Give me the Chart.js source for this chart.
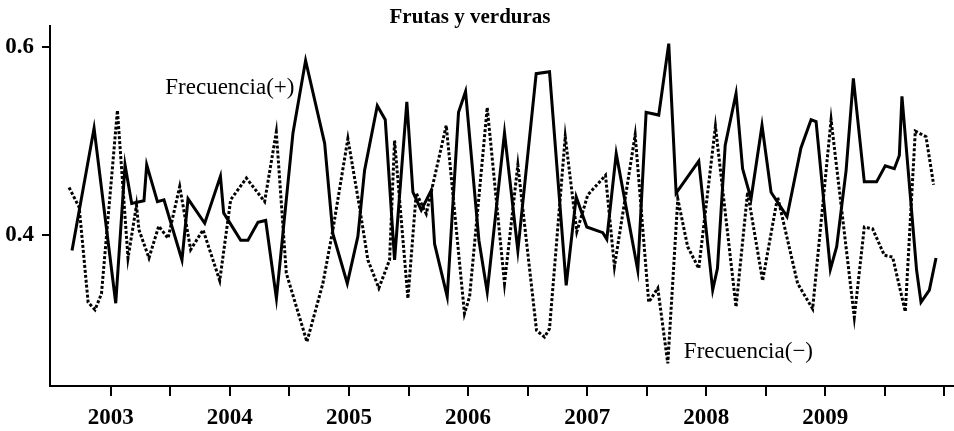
<!DOCTYPE html>
<html>
<head>
<meta charset="utf-8">
<script src="https://cdn.jsdelivr.net/npm/chart.js@4"></script>
<style>
  html, body { margin: 0; padding: 0; background: #fff; }
  #wrap { width: 954px; height: 431px; }
</style>
</head>
<body>
<div id="wrap"><canvas id="myChart" width="954" height="431"></canvas></div>
<script>
// dates as decimal years
var posX = [2002.675, 2002.860, 2003.042, 2003.120, 2003.176, 2003.279, 2003.302, 2003.392, 2003.447, 2003.598,
            2003.649, 2003.789, 2003.921, 2003.948, 2004.091, 2004.152, 2004.236, 2004.301, 2004.391, 2004.530,
            2004.636, 2004.796, 2004.865, 2004.986, 2005.075, 2005.131, 2005.238, 2005.305, 2005.383, 2005.486,
            2005.537, 2005.607, 2005.691, 2005.719, 2005.825, 2005.920, 2005.979, 2006.091, 2006.161, 2006.306,
            2006.418, 2006.572, 2006.684, 2006.824, 2006.908, 2006.997, 2007.131, 2007.165, 2007.244, 2007.425,
            2007.495, 2007.601, 2007.685, 2007.747, 2007.937, 2008.054, 2008.094, 2008.159, 2008.250, 2008.305,
            2008.376, 2008.468, 2008.544, 2008.678, 2008.795, 2008.880, 2008.922, 2009.042, 2009.095, 2009.174,
            2009.235, 2009.327, 2009.430, 2009.503, 2009.579, 2009.621, 2009.643, 2009.766, 2009.803, 2009.873,
            2009.929];
var posY = [0.384, 0.514, 0.328, 0.475, 0.434, 0.437, 0.475, 0.436, 0.438, 0.374,
            0.439, 0.413, 0.463, 0.424, 0.395, 0.395, 0.414, 0.416, 0.333, 0.509,
            0.586, 0.498, 0.402, 0.349, 0.399, 0.469, 0.538, 0.523, 0.374, 0.542,
            0.446, 0.427, 0.448, 0.391, 0.335, 0.531, 0.553, 0.395, 0.340, 0.509,
            0.384, 0.572, 0.574, 0.347, 0.441, 0.409, 0.403, 0.396, 0.487, 0.363,
            0.531, 0.528, 0.604, 0.445, 0.479, 0.342, 0.365, 0.496, 0.551, 0.471,
            0.439, 0.517, 0.446, 0.420, 0.493, 0.523, 0.521, 0.364, 0.388, 0.469,
            0.567, 0.457, 0.457, 0.474, 0.471, 0.485, 0.548, 0.363, 0.329, 0.342,
            0.376];

var negX = [2002.650, 2002.735, 2002.810, 2002.868, 2002.922, 2003.056, 2003.145, 2003.216, 2003.237, 2003.321,
            2003.403, 2003.481, 2003.579, 2003.671, 2003.775, 2003.915, 2004.007, 2004.139, 2004.292, 2004.390,
            2004.474, 2004.647, 2004.781, 2004.865, 2004.991, 2005.089, 2005.159, 2005.251, 2005.341, 2005.383,
            2005.495, 2005.565, 2005.649, 2005.817, 2005.970, 2006.013, 2006.161, 2006.306, 2006.418, 2006.575,
            2006.642, 2006.684, 2006.816, 2006.913, 2007.005, 2007.154, 2007.229, 2007.403, 2007.517, 2007.593,
            2007.677, 2007.761, 2007.844, 2007.937, 2008.077, 2008.250, 2008.347, 2008.473, 2008.599, 2008.767,
            2008.893, 2009.048, 2009.243, 2009.327, 2009.397, 2009.495, 2009.565, 2009.671, 2009.755, 2009.845,
            2009.909];
var negY = [0.451, 0.430, 0.329, 0.321, 0.338, 0.533, 0.376, 0.432, 0.406, 0.376,
            0.410, 0.397, 0.452, 0.385, 0.406, 0.352, 0.438, 0.461, 0.436, 0.510,
            0.360, 0.287, 0.349, 0.406, 0.503, 0.430, 0.374, 0.344, 0.374, 0.501,
            0.333, 0.445, 0.423, 0.517, 0.317, 0.335, 0.536, 0.349, 0.475, 0.299,
            0.292, 0.301, 0.505, 0.404, 0.443, 0.464, 0.367, 0.507, 0.329, 0.344,
            0.264, 0.439, 0.388, 0.365, 0.516, 0.324, 0.446, 0.352, 0.441, 0.349,
            0.322, 0.523, 0.313, 0.409, 0.407, 0.379, 0.377, 0.319, 0.511, 0.505,
            0.454];

var xTicks = [2003, 2003.5, 2004, 2004.5, 2005, 2005.5, 2006, 2006.5, 2007, 2007.5,
              2008, 2008.5, 2009, 2009.5, 2010];
var xTickLabels = ['2003', '', '2004', '', '2005', '', '2006', '', '2007', '',
                   '2008', '', '2009', '', ''];
var yTicks = [0.4, 0.6];
var yTickLabels = ['0.4', '0.6'];

var chartTitle = 'Frutas y verduras';
var labels = [
  { text: 'Frecuencia(+)', x: 2004.0, y: 0.557 },
  { text: 'Frecuencia(\u2212)', x: 2008.354, y: 0.276 }
];

var serif = "'Liberation Serif', 'Times New Roman', serif";

function pairs(xs, ys) {
  return xs.map(function(x, i) { return { x: x, y: ys[i] }; });
}

// title + line labels drawn as text on the canvas
var textPlugin = {
  id: 'texts',
  afterDraw: function(chart) {
    var ctx = chart.ctx;
    var sx = chart.scales.x, sy = chart.scales.y;
    ctx.save();
    ctx.fillStyle = '#000';
    ctx.textAlign = 'center';
    ctx.textBaseline = 'middle';
    ctx.font = 'bold 21px ' + serif;
    ctx.fillText(chartTitle, 470, 18);
    ctx.font = '23px ' + serif;
    labels.forEach(function(l) {
      ctx.fillText(l.text, sx.getPixelForValue(l.x), sy.getPixelForValue(l.y));
    });
    ctx.restore();
  }
};

var ctx = document.getElementById('myChart').getContext('2d');
var chart = new Chart(ctx, {
  type: 'line',
  data: {
    datasets: [{
      label: 'Frecuencia(+)',
      data: pairs(posX, posY),
      borderColor: '#000',
      borderWidth: 3,
      pointRadius: 0,
      tension: 0,
      fill: false
    },
    {
      label: 'Frecuencia(-)',
      data: pairs(negX, negY),
      borderColor: '#000',
      borderWidth: 3,
      borderDash: [3, 2],
      pointRadius: 0,
      tension: 0,
      fill: false
    }]
  },
  options: {
    responsive: false,
    animation: false,
    devicePixelRatio: 1,
    layout: { padding: { top: 26, right: 0, left: 0, bottom: 0 } },
    plugins: { legend: { display: false }, tooltip: { enabled: false } },
    scales: {
      x: {
        type: 'linear',
        min: 2002.49,
        max: 2010.08,
        afterBuildTicks: function(axis) { axis.ticks = xTicks.map(function(v) { return { value: v }; }); },
        afterFit: function(axis) { axis.height = 45; },
        ticks: {
          autoSkip: false,
          maxRotation: 0,
          color: '#000',
          padding: 8,
          font: { family: serif, size: 23, weight: 'bold' },
          callback: function(v, i) { return xTickLabels[i]; }
        },
        grid: { drawOnChartArea: false, drawTicks: true, tickLength: 10, color: '#000', lineWidth: 2 },
        border: { display: true, color: '#000', width: 2 }
      },
      y: {
        min: 0.24,
        max: 0.6227,
        afterBuildTicks: function(axis) { axis.ticks = yTicks.map(function(v) { return { value: v }; }); },
        afterFit: function(axis) { axis.width = 50; },
        ticks: {
          color: '#000',
          padding: 8,
          font: { family: serif, size: 23, weight: 'bold' },
          callback: function(v, i) { return yTickLabels[i]; }
        },
        grid: { drawOnChartArea: false, drawTicks: true, tickLength: 8, color: '#000', lineWidth: 2 },
        border: { display: true, color: '#000', width: 2 }
      }
    }
  },
  plugins: [textPlugin]
});
</script>
</body>
</html>
